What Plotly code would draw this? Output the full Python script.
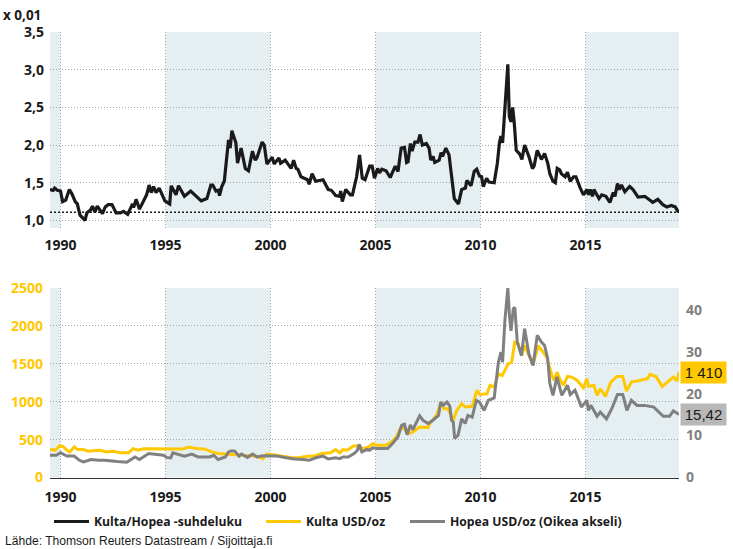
import plotly.graph_objects as go

ratio_years = [1989.5, 1989.65, 1989.72, 1989.85, 1990.0, 1990.1, 1990.25, 1990.42, 1990.55, 1990.7, 1990.8, 1990.93, 1991.17, 1991.25, 1991.43, 1991.52, 1991.64, 1991.75, 1992.0, 1992.13, 1992.27, 1992.45, 1992.65, 1992.85, 1993.0, 1993.2, 1993.43, 1993.48, 1993.6, 1993.76, 1994.1, 1994.22, 1994.32, 1994.43, 1994.55, 1994.7, 1994.97, 1995.2, 1995.27, 1995.5, 1995.62, 1995.9, 1996.2, 1996.45, 1996.6, 1996.7, 1996.97, 1997.16, 1997.25, 1997.4, 1997.52, 1997.57, 1997.68, 1997.8, 1998.0, 1998.08, 1998.16, 1998.35, 1998.43, 1998.6, 1998.8, 1998.95, 1999.14, 1999.27, 1999.35, 1999.6, 1999.7, 1999.83, 2000.0, 2000.08, 2000.17, 2000.4, 2000.48, 2000.7, 2000.98, 2001.1, 2001.22, 2001.3, 2001.45, 2001.76, 2001.84, 2001.98, 2002.15, 2002.5, 2002.75, 2002.9, 2003.1, 2003.3, 2003.34, 2003.42, 2003.58, 2003.8, 2003.9, 2004.1, 2004.24, 2004.37, 2004.5, 2004.65, 2004.72, 2004.84, 2004.95, 2005.1, 2005.19, 2005.3, 2005.5, 2005.7, 2005.83, 2005.94, 2006.07, 2006.22, 2006.38, 2006.48, 2006.55, 2006.66, 2006.74, 2006.87, 2007.02, 2007.12, 2007.23, 2007.42, 2007.55, 2007.63, 2007.74, 2007.82, 2008.03, 2008.12, 2008.19, 2008.35, 2008.5, 2008.6, 2008.67, 2008.75, 2008.95, 2009.1, 2009.28, 2009.35, 2009.55, 2009.7, 2009.82, 2009.95, 2010.05, 2010.13, 2010.29, 2010.4, 2010.65, 2010.8, 2010.9, 2010.97, 2011.05, 2011.16, 2011.24, 2011.3, 2011.37, 2011.45, 2011.53, 2011.6, 2011.7, 2011.87, 2011.97, 2012.1, 2012.3, 2012.47, 2012.55, 2012.7, 2012.9, 2013.05, 2013.2, 2013.3, 2013.45, 2013.56, 2013.65, 2013.77, 2013.85, 2014.03, 2014.14, 2014.27, 2014.43, 2014.54, 2014.75, 2014.9, 2015.06, 2015.14, 2015.22, 2015.33, 2015.4, 2015.64, 2015.77, 2015.97, 2016.16, 2016.32, 2016.4, 2016.52, 2016.6, 2016.71, 2016.87, 2017.1, 2017.26, 2017.5, 2017.82, 2018.2, 2018.44, 2018.68, 2018.87, 2019.08, 2019.27, 2019.42]
ratio_values = [1.41, 1.40, 1.43, 1.40, 1.39, 1.25, 1.27, 1.41, 1.35, 1.25, 1.22, 1.07, 1.00, 1.10, 1.14, 1.19, 1.11, 1.19, 1.09, 1.18, 1.21, 1.21, 1.10, 1.10, 1.12, 1.08, 1.22, 1.17, 1.28, 1.15, 1.34, 1.47, 1.37, 1.45, 1.37, 1.43, 1.26, 1.22, 1.46, 1.34, 1.46, 1.32, 1.39, 1.32, 1.28, 1.26, 1.29, 1.47, 1.47, 1.39, 1.40, 1.33, 1.45, 1.52, 2.07, 1.96, 2.19, 2.03, 1.76, 1.96, 1.69, 1.66, 1.92, 1.80, 1.83, 2.04, 2.00, 1.75, 1.81, 1.84, 1.75, 1.83, 1.76, 1.80, 1.69, 1.80, 1.69, 1.68, 1.58, 1.54, 1.48, 1.62, 1.52, 1.54, 1.41, 1.40, 1.33, 1.32, 1.39, 1.25, 1.41, 1.34, 1.34, 1.58, 1.87, 1.56, 1.54, 1.65, 1.72, 1.72, 1.56, 1.69, 1.63, 1.68, 1.66, 1.57, 1.66, 1.72, 1.65, 1.96, 1.97, 1.77, 1.78, 2.02, 1.92, 2.04, 2.04, 2.14, 2.00, 2.02, 1.96, 1.80, 1.85, 1.77, 1.80, 1.90, 1.85, 1.96, 1.87, 1.61, 1.50, 1.29, 1.22, 1.41, 1.43, 1.53, 1.46, 1.65, 1.68, 1.59, 1.58, 1.45, 1.56, 1.51, 1.50, 1.76, 2.03, 2.12, 2.03, 2.51, 2.78, 3.07, 2.38, 2.31, 2.50, 2.31, 1.93, 1.88, 1.81, 2.00, 1.85, 1.69, 1.72, 1.93, 1.81, 1.89, 1.76, 1.62, 1.52, 1.50, 1.69, 1.67, 1.62, 1.58, 1.64, 1.52, 1.58, 1.58, 1.43, 1.34, 1.41, 1.34, 1.41, 1.32, 1.41, 1.29, 1.34, 1.32, 1.24, 1.37, 1.32, 1.49, 1.41, 1.47, 1.38, 1.45, 1.41, 1.31, 1.32, 1.24, 1.28, 1.21, 1.18, 1.20, 1.18, 1.11]
ratio_level = 1.11

gold_years = [1989.5, 1989.75, 1989.95, 1990.1, 1990.3, 1990.45, 1990.65, 1990.8, 1991.1, 1991.33, 1991.65, 1991.9, 1992.17, 1992.5, 1992.85, 1993.24, 1993.45, 1993.7, 1993.95, 1994.43, 1994.9, 1995.2, 1995.85, 1996.1, 1996.45, 1996.85, 1997.2, 1997.5, 1997.9, 1998.25, 1998.55, 1998.85, 1999.3, 1999.65, 1999.8, 2000.05, 2000.6, 2001.1, 2001.4, 2001.75, 2002.05, 2002.45, 2002.85, 2003.1, 2003.3, 2003.45, 2003.65, 2003.95, 2004.2, 2004.43, 2004.67, 2004.87, 2005.03, 2005.5, 2005.75, 2005.99, 2006.22, 2006.38, 2006.55, 2006.78, 2007.1, 2007.5, 2007.58, 2007.9, 2008.14, 2008.25, 2008.45, 2008.7, 2008.87, 2009.1, 2009.27, 2009.6, 2009.83, 2009.97, 2010.3, 2010.45, 2010.65, 2010.85, 2011.03, 2011.32, 2011.48, 2011.63, 2011.8, 2011.95, 2012.1, 2012.35, 2012.5, 2012.75, 2013.0, 2013.15, 2013.4, 2013.5, 2013.64, 2013.8, 2013.95, 2014.14, 2014.35, 2014.6, 2014.9, 2015.06, 2015.14, 2015.4, 2015.55, 2015.7, 2015.95, 2016.2, 2016.5, 2016.77, 2016.95, 2017.18, 2017.45, 2017.95, 2018.07, 2018.35, 2018.65, 2019.0, 2019.18, 2019.35, 2019.45]
gold_values = [368, 360, 417, 412, 360, 338, 403, 368, 368, 346, 355, 360, 338, 346, 325, 325, 380, 360, 380, 380, 380, 373, 377, 403, 382, 377, 338, 316, 307, 302, 302, 294, 281, 250, 307, 302, 281, 259, 263, 281, 281, 316, 325, 368, 325, 368, 360, 417, 417, 382, 403, 447, 425, 425, 469, 535, 667, 640, 579, 601, 667, 658, 710, 820, 996, 908, 908, 754, 886, 974, 930, 939, 1149, 1096, 1105, 1215, 1193, 1368, 1346, 1500, 1522, 1785, 1763, 1610, 1741, 1588, 1491, 1741, 1654, 1588, 1346, 1281, 1390, 1281, 1215, 1333, 1325, 1281, 1184, 1303, 1202, 1215, 1083, 1171, 1070, 1259, 1333, 1333, 1140, 1259, 1272, 1303, 1360, 1333, 1202, 1281, 1325, 1272, 1390]

silver_years = [1989.5, 1989.8, 1990.0, 1990.3, 1990.65, 1990.9, 1991.1, 1991.45, 1991.8, 1992.1, 1992.7, 1993.15, 1993.55, 1993.76, 1994.2, 1994.6, 1994.9, 1995.05, 1995.25, 1995.35, 1995.7, 1995.9, 1996.25, 1996.55, 1997.1, 1997.3, 1997.5, 1997.85, 1998.0, 1998.16, 1998.3, 1998.5, 1998.62, 1998.9, 1999.15, 1999.35, 1999.65, 2000.0, 2000.3, 2000.75, 2001.15, 2001.55, 2001.85, 2002.15, 2002.5, 2002.75, 2003.1, 2003.3, 2003.45, 2003.7, 2003.98, 2004.14, 2004.22, 2004.35, 2004.6, 2004.71, 2004.87, 2005.1, 2005.58, 2005.83, 2006.07, 2006.25, 2006.38, 2006.5, 2006.66, 2006.78, 2007.1, 2007.26, 2007.5, 2007.7, 2008.0, 2008.1, 2008.22, 2008.4, 2008.54, 2008.62, 2008.7, 2008.77, 2008.93, 2009.1, 2009.27, 2009.4, 2009.6, 2009.8, 2009.95, 2010.17, 2010.37, 2010.65, 2010.85, 2010.97, 2011.05, 2011.16, 2011.3, 2011.37, 2011.45, 2011.56, 2011.63, 2011.75, 2011.95, 2012.1, 2012.3, 2012.5, 2012.7, 2012.9, 2013.05, 2013.2, 2013.3, 2013.45, 2013.64, 2013.87, 2014.14, 2014.27, 2014.5, 2014.8, 2015.06, 2015.14, 2015.25, 2015.4, 2015.55, 2015.7, 2016.0, 2016.25, 2016.52, 2016.77, 2016.97, 2017.18, 2017.45, 2017.8, 2018.25, 2018.7, 2019.0, 2019.18, 2019.45]
silver_values = [5.3, 5.3, 5.9, 5.1, 5.1, 4.1, 3.7, 4.3, 4.1, 4.1, 3.8, 3.65, 4.9, 4.3, 5.7, 5.5, 5.3, 4.8, 4.7, 5.9, 5.5, 5.1, 5.6, 4.9, 4.9, 5.3, 4.3, 4.9, 6.1, 6.35, 6.3, 5.1, 5.6, 4.8, 5.6, 4.9, 5.2, 5.2, 5.1, 4.7, 4.4, 4.3, 4.1, 4.7, 5.1, 4.4, 4.7, 4.5, 4.9, 4.9, 5.7, 6.5, 7.9, 6.1, 6.7, 6.5, 7.1, 6.9, 6.9, 8.25, 9.7, 12.5, 12.7, 10.2, 12.5, 11.4, 14.7, 13.65, 12.9, 13.5, 14.8, 18.0, 17.2, 18.0, 17.0, 13.65, 13.25, 9.3, 10.1, 14.0, 12.9, 14.8, 14.4, 18.4, 18.0, 16.0, 18.4, 19.0, 27.5, 29.9, 27.5, 37.5, 45.2, 39.0, 35.0, 40.2, 40.6, 32.3, 29.1, 35.5, 29.5, 26.7, 33.9, 32.3, 31.5, 28.3, 22.4, 19.6, 24.0, 19.6, 22.0, 19.8, 20.8, 16.8, 18.4, 16.0, 17.2, 16.0, 14.6, 15.6, 14.0, 16.4, 19.8, 19.8, 16.0, 18.4, 17.2, 17.2, 16.8, 14.6, 14.6, 15.9, 15.0]

band_starts = [1989.5, 1995, 2005, 2015]
band_ends = [1990, 2000, 2010, 2019.45]

year_ticks = [1990, 1995, 2000, 2005, 2010, 2015]
ratio_ticks = [1.0, 1.5, 2.0, 2.5, 3.0, 3.5]
ratio_labels = ["1,0", "1,5", "2,0", "2,5", "3,0", "3,5"]
gold_ticks = [0, 500, 1000, 1500, 2000, 2500]
silver_ticks = [0, 10, 20, 30, 40]

last_gold = 1410
last_silver = 15.42

BOLD = "Open Sans"
DARK = "#1a1a1a"
GOLD = "#ffc800"
GREY = "#808080"
GRID = "#a6a6a6"
DOTS = "1px,2px"

fig = go.Figure()
fig.add_trace(go.Scatter(x=ratio_years, y=ratio_values, mode="lines", name="<b>Kulta/Hopea -suhdeluku</b>",
                         line=dict(color=DARK, width=3.2), xaxis="x", yaxis="y", legend="legend", showlegend=True))
fig.add_trace(go.Scatter(x=gold_years, y=gold_values, mode="lines", name="<b>Kulta USD/oz</b>",
                         line=dict(color=GOLD, width=3), xaxis="x2", yaxis="y2", legend="legend2", showlegend=True))
fig.add_trace(go.Scatter(x=silver_years, y=silver_values, mode="lines", name="<b>Hopea USD/oz (Oikea akseli)</b>",
                         line=dict(color=GREY, width=3), xaxis="x2", yaxis="y3", legend="legend3", showlegend=True))

# shaded 5 year bands in both panels
for start, end in zip(band_starts, band_ends):
    for xr, yr in [("x", "y"), ("x2", "y2")]:
        fig.add_shape(type="rect", xref=xr, yref=yr + " domain", x0=start, x1=end, y0=0, y1=1,
                      fillcolor="#e5eef1", line_width=0, layer="below")

fig.add_shape(type="line", xref="x domain", yref="y", x0=0, x1=1, y0=ratio_level, y1=ratio_level,
              line=dict(color=DARK, width=1.5, dash="2px,2px"), layer="above")

xaxis_style = dict(range=[1989.5, 2019.45], domain=[50 / 733, 679 / 733], tickmode="array", tickvals=year_ticks,
                   showgrid=True, gridcolor=GRID, griddash=DOTS, gridwidth=1, zeroline=False,
                   ticks="", ticklabelstandoff=7, tickfont=dict(family=BOLD, size=14, color=DARK, weight="bold"))
legend_style = dict(orientation="h", y=1 - 507 / 549, xanchor="left", yanchor="top", itemwidth=35,
                    font=dict(family=BOLD, size=12.2, color=DARK), bgcolor="rgba(0,0,0,0)")

fig.update_layout(
    width=733, height=549, margin=dict(l=0, r=0, t=0, b=0, autoexpand=False),
    paper_bgcolor="white", plot_bgcolor="rgba(0,0,0,0)", showlegend=True,
    xaxis=dict(xaxis_style, anchor="y", showline=False),
    xaxis2=dict(xaxis_style, anchor="y2", showline=True, linecolor="#333333", linewidth=1),
    yaxis=dict(domain=[1 - 228 / 549, 1 - 32 / 549], range=[0.9, 3.5], tickmode="array", tickvals=ratio_ticks,
               ticktext=ratio_labels, showgrid=True, gridcolor=GRID, griddash=DOTS, zeroline=False,
               ticks="", ticklabelstandoff=5, tickfont=dict(family=BOLD, size=14, color=DARK, weight="bold")),
    yaxis2=dict(domain=[1 - 477.5 / 549, 1 - 288 / 549], range=[0, 2500], tickmode="array", tickvals=gold_ticks,
                showgrid=True, gridcolor=GRID, griddash=DOTS, zeroline=False, tickformat="d",
                ticks="", ticklabelstandoff=6, tickfont=dict(family=BOLD, size=14, color=GOLD, weight="bold")),
    yaxis3=dict(domain=[1 - 477.5 / 549, 1 - 288 / 549], range=[0, 45.2], tickmode="array", tickvals=silver_ticks,
                overlaying="y2", side="right", anchor="x2", showgrid=False, zeroline=False,
                ticks="", ticklabelstandoff=6, tickfont=dict(family=BOLD, size=14, color=GREY, weight="bold")),
    legend=dict(legend_style, x=49 / 733),
    legend2=dict(legend_style, x=261 / 733),
    legend3=dict(legend_style, x=405 / 733),
)

fig.add_annotation(text="<b>x 0,01</b>", xref="paper", yref="paper", x=1 / 733, y=1 - 15 / 549, xanchor="left",
                   yanchor="middle", showarrow=False, font=dict(family=BOLD, size=13.5, color=DARK))
fig.add_annotation(text="Lähde: Thomson Reuters Datastream / Sijoittaja.fi", xref="paper", yref="paper",
                   x=2.5 / 733, y=1 - 541 / 549, xanchor="left", yanchor="middle", showarrow=False,
                   font=dict(family="Liberation Sans", size=12.1, color=DARK))
fig.add_annotation(text="1 410", xref="paper", yref="y2", x=680 / 733, y=last_gold, yshift=-2, xanchor="left",
                   yanchor="middle", showarrow=False, bgcolor=GOLD, width=43, height=19,
                   font=dict(family="Liberation Sans", size=15, color=DARK))
fig.add_annotation(text="15,42", xref="paper", yref="y3", x=680 / 733, y=last_silver, yshift=-2, xanchor="left",
                   yanchor="middle", showarrow=False, bgcolor="#b8b8b8", width=43, height=19,
                   font=dict(family="Liberation Sans", size=15, color=DARK))

fig.write_html("out.html", config={"displayModeBar": False}, post_script="document.body.style.margin='0';")
